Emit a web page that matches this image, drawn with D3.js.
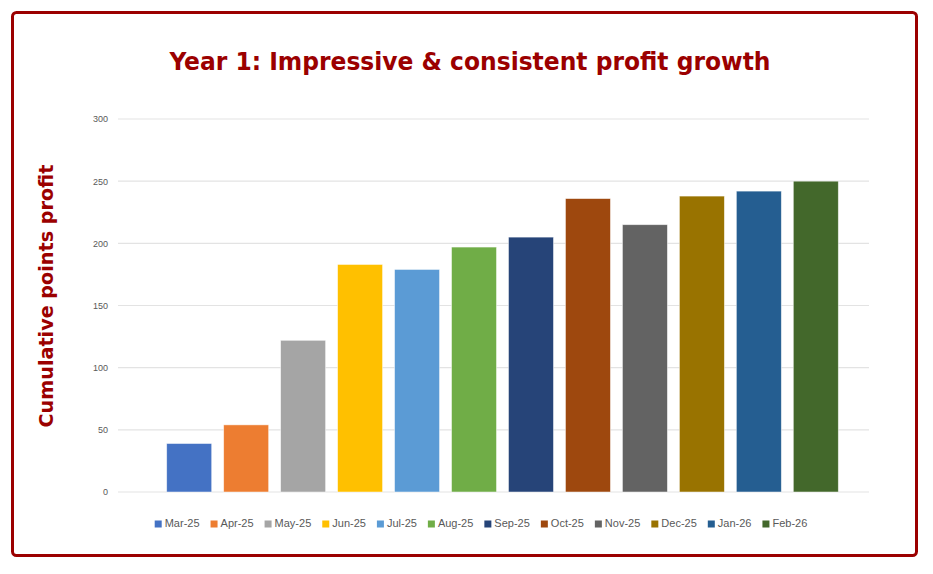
<!DOCTYPE html>
<html>
<head>
<meta charset="utf-8">
<script src="https://cdn.jsdelivr.net/npm/d3@7"></script>
<style>
  body { margin: 0; background: #fff; }
  svg { display: block; }
</style>
</head>
<body>
<script>
// data
var months = ["Mar-25","Apr-25","May-25","Jun-25","Jul-25","Aug-25","Sep-25","Oct-25","Nov-25","Dec-25","Jan-26","Feb-26"];
var profit = [39, 54, 122, 183, 179, 197, 205, 236, 215, 238, 242, 250];
var colors = ["#4472C4","#ED7D31","#A5A5A5","#FFC000","#5B9BD5","#70AD47","#264478","#9E480E","#636363","#997300","#255E91","#43682B"];
var yTicks = [0, 50, 100, 150, 200, 250, 300];

var W = 933, H = 574;
var red = "#9B0000";

var svg = d3.select("body").append("svg")
	.attr("width", W)
	.attr("height", H);

// frame
svg.append("rect")
	.attr("x", 12.5).attr("y", 12.5)
	.attr("width", 904).attr("height", 543)
	.attr("rx", 4)
	.attr("fill", "#fff")
	.attr("stroke", red)
	.attr("stroke-width", 3);

// title
var title = svg.append("text")
	.attr("x", 470).attr("y", 70)
	.attr("text-anchor", "middle")
	.style("font-family", "'DejaVu Sans Condensed','DejaVu Sans',sans-serif")
	.style("font-stretch", "condensed")
	.style("font-weight", "bold")
	.style("font-size", "25px")
	.attr("fill", red)
	.text("Year 1: Impressive & consistent profit growth");
title.attr("textLength", 601).attr("lengthAdjust", "spacingAndGlyphs");

// y title
svg.append("text")
	.attr("transform", "translate(53,296) rotate(-90)")
	.attr("text-anchor", "middle")
	.style("font-family", "'DejaVu Sans Condensed','DejaVu Sans',sans-serif")
	.style("font-stretch", "condensed")
	.style("font-weight", "bold")
	.style("font-size", "19px")
	.attr("fill", red)
	.attr("textLength", 263)
	.attr("lengthAdjust", "spacingAndGlyphs")
	.text("Cumulative points profit");

// scales
var gridX0 = 118, gridX1 = 869;
var y = d3.scaleLinear().domain([0, 300]).range([492, 119]);
var x = d3.scaleBand().domain(months)
	.range([160.7, 844.3])
	.paddingInner(0.21)
	.paddingOuter(0.105);

// gridlines
svg.append("g").selectAll("line")
	.data(yTicks)
	.enter()
	.append("line")
	   .attr("x1", gridX0).attr("x2", gridX1)
	   .attr("y1", function(d) { return y(d); })
	   .attr("y2", function(d) { return y(d); })
	   .attr("stroke", "#E3E3E3")
	   .attr("stroke-width", 1.2);

// y axis labels
var yAxis = svg.append("g")
	.attr("transform", "translate(108,0)")
	.call(d3.axisLeft(y).tickValues(yTicks).tickSize(0).tickPadding(0));
yAxis.select(".domain").remove();
yAxis.selectAll("text")
	.style("font-family", "'Liberation Sans',Arial,sans-serif")
	.style("font-size", "9px")
	.attr("fill", "#595959");

// bars
svg.append("g").selectAll("rect")
	.data(profit)
	.enter()
	.append("rect")
	   .attr("x", function(d, i) { return x(months[i]); })
	   .attr("y", function(d) { return y(d); })
	   .attr("width", x.bandwidth())
	   .attr("height", function(d) { return y(0) - y(d); })
	   .attr("fill", function(d, i) { return colors[i]; })
	   .attr("stroke", "#fff")
	   .attr("stroke-opacity", 0.6)
	   .attr("stroke-width", 0.8);

// legend
var legend = svg.append("g");
var items = legend.selectAll("g")
	.data(months)
	.enter()
	.append("g");
items.append("rect")
	.attr("width", 7).attr("height", 7)
	.attr("y", -3.5)
	.attr("fill", function(d, i) { return colors[i]; });
items.append("text")
	.attr("x", 10).attr("y", 0)
	.style("font-family", "'Liberation Sans',Arial,sans-serif")
	.style("font-size", "11px")
	.attr("fill", "#595959")
	.attr("dominant-baseline", "middle")
	.text(function(d) { return d; });

var gap = 11, pos = [], cur = 0;
items.each(function() {
	var w = 10 + d3.select(this).select("text").node().getComputedTextLength();
	pos.push(cur);
	cur += w + gap;
});
var total = cur - gap;
var lx0 = 481 - total / 2;
items.attr("transform", function(d, i) { return "translate(" + (lx0 + pos[i]) + ",524)"; });
</script>
</body>
</html>
